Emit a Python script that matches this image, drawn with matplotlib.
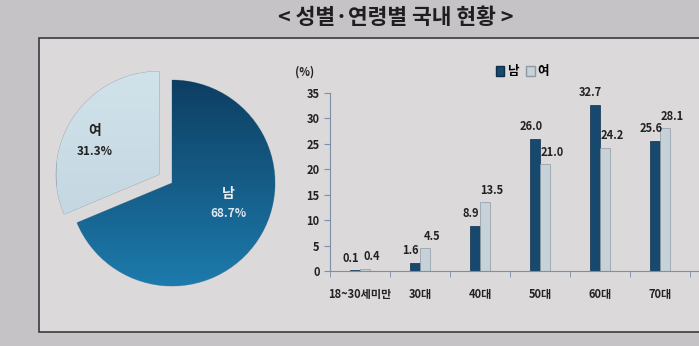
import matplotlib
matplotlib.use('Agg')
import matplotlib.pyplot as plt
import numpy as np
from matplotlib.patches import Rectangle, Patch

plt.rcParams['font.family'] = ['Noto Sans CJK KR', 'DejaVu Sans']
plt.rcParams['font.weight'] = 'bold'

# data
title = '< 성별·연령별 국내 현황 >'
pie_labels = ['남', '여']
pie_values = [68.7, 31.3]
categories = ['18~30세미만', '30대', '40대', '50대', '60대', '70대']
male = [0.1, 1.6, 8.9, 26.0, 32.7, 25.6]
female = [0.4, 4.5, 13.5, 21.0, 24.2, 28.1]

W, H = 699, 346
fig = plt.figure(figsize=(W / 100, H / 100), dpi=100)
fig.patch.set_facecolor('#c6c3c6')

def px(left, top, width, height):
    # pixel box (from top-left) -> figure fraction
    return [left / W, (H - top - height) / H, width / W, height / H]

# panel behind the charts
fig.patches.append(Rectangle((39 / W, (H - 332) / H), 1, (332 - 38) / H,
                             transform=fig.transFigure, facecolor='#dbd9da',
                             edgecolor='#3a3a3e', linewidth=1.2, zorder=-5))

fig.text(396 / W, 1 - 17 / H, title, ha='center', va='center',
         fontsize=15.5, fontweight='bold', color='#1e1e22')

# ---- pie ----
R = 103
ax1 = fig.add_axes(px(172 - 115, 183 - 115, 230, 230))
lim = 115 / R
ax1.axis('off')

wedges, _ = ax1.pie(pie_values, startangle=90, counterclock=False,
                    explode=[0, 0.15], colors=['#175d8a', '#c7dbe4'],
                    wedgeprops=dict(edgecolor='#9aa7b0', linewidth=0.6))

# vertical shading like the original
grad = np.linspace(0, 1, 256).reshape(-1, 1)
male_cmap = matplotlib.colors.LinearSegmentedColormap.from_list('m', ['#0b3556', '#1f84b8'])
fem_cmap = matplotlib.colors.LinearSegmentedColormap.from_list('f', ['#d2e3eb', '#bcd1db'])
for w, cm in zip(wedges, [male_cmap, fem_cmap]):
    im = ax1.imshow(grad, cmap=cm, extent=(-1.3, 1.3, -1.3, 1.3), aspect='auto',
                    origin='upper', zorder=w.get_zorder() + 0.1)
    im.set_clip_path(w)
ax1.set_xlim(-lim, lim)
ax1.set_ylim(-lim, lim)
ax1.set_aspect('equal')

ax1.text(0.55, -0.11, pie_labels[0], ha='center', va='center', fontsize=10,
         color='#e8eef2', zorder=5)
ax1.text(0.55, -0.30, '%.1f%%' % pie_values[0], ha='center', va='center',
         fontsize=8.5, color='#dfe8ee', zorder=5)
ax1.text(-0.75, 0.50, pie_labels[1], ha='center', va='center', fontsize=10,
         color='#222', zorder=5)
ax1.text(-0.75, 0.31, '%.1f%%' % pie_values[1], ha='center', va='center',
         fontsize=8.5, color='#222', zorder=5)

# ---- bars ----
ax2 = fig.add_axes(px(330, 93, 369, 178))
ax2.set_facecolor('none')
x = np.arange(len(categories))
bw = 0.17
ax2.bar(x - bw / 2, male, bw, color='#17496e', edgecolor='#0d2f4a', linewidth=0.5)
ax2.bar(x + bw / 2, female, bw, color='#c6d1d8', edgecolor='#8d9aa3', linewidth=0.5)
for i in range(len(categories)):
    ax2.annotate('%.1f' % male[i], (x[i] - bw / 2, male[i]), xytext=(-3, 4),
                 textcoords='offset points', ha='center', va='bottom',
                 fontsize=8, color='#222')
    ax2.annotate('%.1f' % female[i], (x[i] + bw / 2, female[i]), xytext=(5, 4),
                 textcoords='offset points', ha='center', va='bottom',
                 fontsize=8, color='#222')

ax2.set_xlim(-0.46, 5.65)
ax2.set_ylim(0, 35)
ax2.set_yticks(range(0, 36, 5))
ax2.set_xticks(x)
ax2.set_xticklabels(categories)
ax2.set_xticks(np.arange(-0.5, 6, 1), minor=True)
ax2.tick_params(axis='x', which='major', length=0, pad=12, labelsize=8, colors='#222')
ax2.tick_params(axis='x', which='minor', length=4, color='#7d8ea8')
ax2.tick_params(axis='y', length=4, color='#7d8ea8', labelsize=8, labelcolor='#222')
for s in ['top', 'right']:
    ax2.spines[s].set_visible(False)
for s in ['left', 'bottom']:
    ax2.spines[s].set_color('#7d8ea8')

fig.text(305 / W, 1 - 72 / H, '(%)', ha='center', va='center', fontsize=8, color='#222')
ax2.legend(handles=[Patch(facecolor='#17496e', edgecolor='#0d2f4a'),
                    Patch(facecolor='#c6d1d8', edgecolor='#8d9aa3')],
           labels=pie_labels, loc='center', bbox_to_anchor=(522 / W, 1 - 72 / H),
           bbox_transform=fig.transFigure, ncol=2, frameon=False, fontsize=9,
           handlelength=0.7, handleheight=0.9, handletextpad=0.2, columnspacing=0.6)

fig.savefig('out.png', dpi=100, facecolor=fig.get_facecolor())
